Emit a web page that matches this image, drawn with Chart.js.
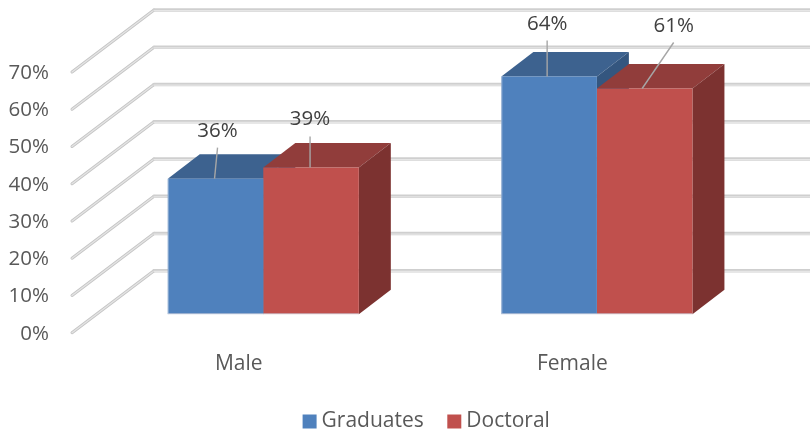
<!DOCTYPE html>
<html>
<head>
<meta charset="utf-8">
<style>html,body{margin:0;padding:0;background:#fff}canvas{display:block}</style>
<script src="https://cdn.jsdelivr.net/npm/chart.js@4"></script>
</head>
<body>
<canvas id="c" width="810" height="430"></canvas>
<script>
const categories = ['Male', 'Female'];
const seriesNames = ['Graduates', 'Doctoral'];
const graduates = [36.4, 63.8];
const doctoral = [39.4, 60.6];
const tickStep = 10;
const axisMax = 70;

const FONT = '"Open Sans", sans-serif';
const frontColors = ['#4F81BD', '#C0504D'];
const topColors = ['#3D628F', '#913D3B'];
const sideColors = ['#34567F', '#7C3230'];
const BAR_DX = 32, BAR_DY = 24.5;
const AXIS_DX = 24.5, AXIS_DY = 18.5;
const WALL_DX = 82, WALL_DY = 62;
// label placement relative to bar centre / top, per dataset then category
const leaderOffsets = [
  [{lx: 2, ly: -47, sx: 2, sy: -31, ex: -1}, {lx: -2, ly: -52, sx: -2, sy: -36, ex: -2}],
  [{lx: -1, ly: -48, sx: -1, sy: -31, ex: -1}, {lx: 29, ly: -62, sx: 29, sy: -46, ex: -2.5}]
];

function stroke(ctx, x1, y1, x2, y2, color, w) {
  ctx.beginPath(); ctx.moveTo(x1, y1); ctx.lineTo(x2, y2);
  ctx.strokeStyle = color; ctx.lineWidth = w; ctx.stroke();
}
function poly(ctx, pts, color) {
  ctx.beginPath();
  pts.forEach((p, i) => i ? ctx.lineTo(p[0], p[1]) : ctx.moveTo(p[0], p[1]));
  ctx.closePath(); ctx.fillStyle = color; ctx.fill();
}

const wall3d = {
  id: 'wall3d',
  beforeDatasetsDraw(chart) {
    const ctx = chart.ctx, y = chart.scales.y, area = chart.chartArea;
    const fx = area.left - AXIS_DX;
    const endX = area.right - AXIS_DX + WALL_DX;
    ctx.save();
    ctx.lineCap = 'round';
    y.ticks.forEach(t => {
      const fy = y.getPixelForValue(t.value) + AXIS_DY;
      const bx = fx + WALL_DX, by = fy - WALL_DY;
      stroke(ctx, fx, fy, bx, by, '#c4c4c4', 3);
      stroke(ctx, fx, fy, bx, by, '#e4e4e4', 1.4);
      stroke(ctx, bx, by, endX, by, '#cfcfcf', 3.4);
      stroke(ctx, bx, by + 0.6, endX, by + 0.6, '#e6e6e6', 1.2);
    });
    chart.data.datasets.forEach((ds, i) => {
      chart.getDatasetMeta(i).data.forEach(bar => {
        const l = bar.x - bar.width / 2, r = bar.x + bar.width / 2, t = bar.y, b = bar.base;
        poly(ctx, [[l, t], [l + BAR_DX, t - BAR_DY], [r + BAR_DX, t - BAR_DY], [r, t]], topColors[i]);
        poly(ctx, [[r, t], [r + BAR_DX, t - BAR_DY], [r + BAR_DX, b - BAR_DY], [r, b]], sideColors[i]);
      });
    });
    ctx.restore();
  },
  afterDatasetsDraw(chart) {
    const ctx = chart.ctx;
    ctx.save();
    ctx.font = '20.5px ' + FONT;
    ctx.textAlign = 'center';
    ctx.textBaseline = 'middle';
    chart.data.datasets.forEach((ds, i) => {
      chart.getDatasetMeta(i).data.forEach((bar, j) => {
        const l = bar.x - bar.width / 2, r = bar.x + bar.width / 2;
        stroke(ctx, l, bar.base - 0.5, r, bar.base - 0.5, 'rgba(205,210,220,0.75)', 1);
        if (i === 0) stroke(ctx, l + 0.5, bar.y, l + 0.5, bar.base, 'rgba(190,205,225,0.6)', 1);
        const o = leaderOffsets[i][j];
        stroke(ctx, bar.x + o.sx, bar.y + o.sy, bar.x + o.ex, bar.y, '#a6a6a6', 1.4);
        ctx.fillStyle = '#404040';
        ctx.fillText(Math.round(ds.data[j]) + '%', bar.x + o.lx, bar.y + o.ly);
      });
    });
    ctx.restore();
  }
};

new Chart(document.getElementById('c'), {
  type: 'bar',
  data: {
    labels: categories,
    datasets: [
      {label: seriesNames[0], data: graduates, backgroundColor: frontColors[0], borderWidth: 0},
      {label: seriesNames[1], data: doctoral, backgroundColor: frontColors[1], borderWidth: 0}
    ]
  },
  plugins: [wall3d],
  options: {
    responsive: false,
    animation: false,
    layout: {padding: {left: 0, right: -48, top: 53.5, bottom: -12}},
    datasets: {bar: {categoryPercentage: 0.5727, barPercentage: 1}},
    scales: {
      x: {
        grid: {display: false},
        border: {display: false},
        afterFit(s) { s.height = 67.8; s.paddingLeft = 0; s.paddingRight = 0; },
        ticks: {color: '#595959', font: {family: FONT, size: 21}, padding: 29.5, labelOffset: -AXIS_DX, maxRotation: 0}
      },
      y: {
        min: 0, max: axisMax,
        grid: {display: false},
        border: {display: false},
        afterFit(s) { s.width = 96.5; s.paddingTop = 0; s.paddingBottom = 0; },
        ticks: {
          stepSize: tickStep, color: '#595959', font: {family: FONT, size: 20.5},
          padding: 39.5, labelOffset: AXIS_DY + 1,
          callback: v => v + '%'
        }
      },
      yRight: {
        position: 'right', min: 0, max: axisMax,
        grid: {display: false},
        border: {display: false},
        ticks: {display: false},
        afterFit(s) { s.width = 94.3; s.paddingTop = 0; s.paddingBottom = 0; }
      }
    },
    plugins: {
      tooltip: {enabled: false},
      legend: {
        position: 'bottom',
        labels: {
          color: '#595959', font: {family: FONT, size: 21},
          usePointStyle: true, pointStyle: 'rect', boxWidth: 3, boxHeight: 14, padding: 29
        }
      }
    }
  }
});
</script>
</body>
</html>
